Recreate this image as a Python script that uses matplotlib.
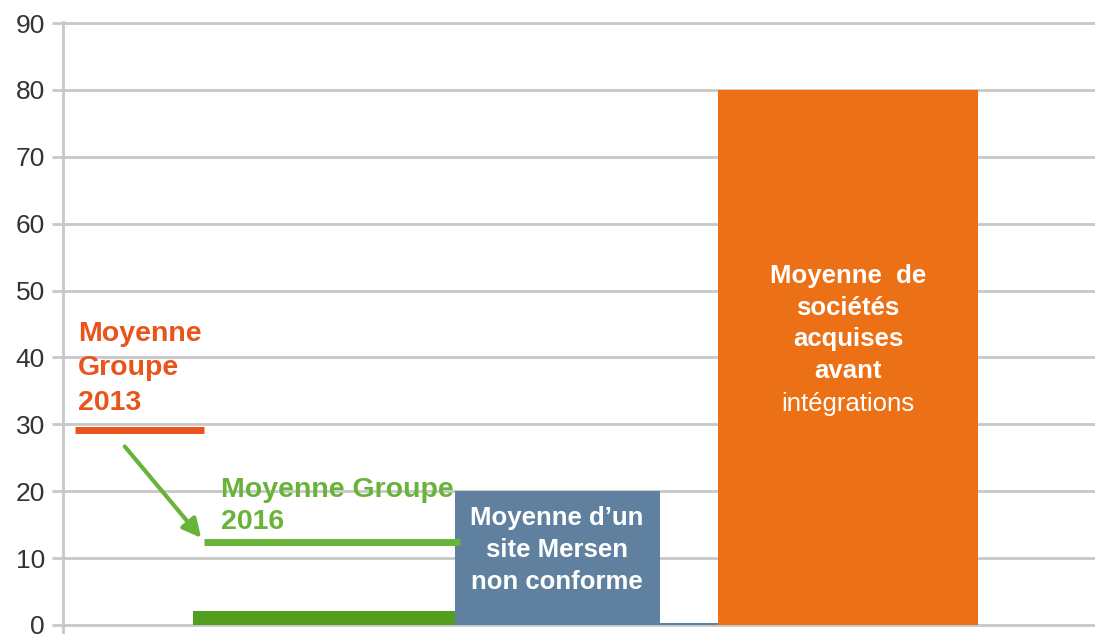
import matplotlib.pyplot as plt

plt.rcParams['font.family'] = ['Liberation Sans', 'DejaVu Sans']

# values
bar_labels = ['Moyenne Groupe 2016', "Moyenne d'un site Mersen non conforme", '', 'Moyenne de sociétés acquises avant intégrations']
bar_values = [2.1, 20, 0.3, 80]
group_2013 = 29.2
group_2016 = 12.4
y_ticks = [0, 10, 20, 30, 40, 50, 60, 70, 80, 90]

# layout (x axis in pixel-like units)
bar_left = [130, 392, 597, 655]
bar_width = [262, 205, 58, 260]
bar_colors = ['#529E1F', '#5F819F', '#5F819F', '#EC7116']

RED = '#E8541A'
GREEN = '#69B33A'
GRID = '#C8C8C8'

fig = plt.figure(figsize=(10.95, 6.34), dpi=100)
ax = fig.add_axes([63 / 1095, 0, 1 - 63 / 1095, 1 - 22 / 634])
ax.set_xlim(0, 1032)
ax.set_ylim(-1.35, 90.15)

ax.set_yticks(y_ticks)
ax.yaxis.grid(True, color=GRID, linewidth=2)
ax.set_axisbelow(True)
ax.set_xticks([])
ax.tick_params(axis='y', length=8, width=2, color=GRID, pad=5,
               labelsize=19, labelcolor='#333333')
for s in ['top', 'right', 'bottom']:
    ax.spines[s].set_visible(False)
ax.spines['left'].set_color(GRID)
ax.spines['left'].set_linewidth(2)

ax.bar(bar_left, bar_values, width=bar_width, align='edge',
       color=bar_colors, linewidth=0, zorder=2)

# group average markers
ax.plot([12, 141], [group_2013, group_2013], color=RED, lw=5, solid_capstyle='butt', zorder=3)
ax.plot([141, 397], [group_2016, group_2016], color=GREEN, lw=5, solid_capstyle='butt', zorder=3)
ax.annotate('', xy=(140, 12.7), xytext=(60, 27.0),
            arrowprops=dict(arrowstyle='-|>', color=GREEN, lw=3, mutation_scale=28),
            zorder=3)

ax.text(15, 38.4, 'Moyenne\nGroupe\n2013', color=RED, fontsize=20.5, fontweight='bold',
        ha='left', va='center', linespacing=1.42)
ax.text(158, 17.8, 'Moyenne Groupe\n2016', color=GREEN, fontsize=20.5, fontweight='bold',
        ha='left', va='center', linespacing=1.3, zorder=1)

ax.text(494, 11.2, 'Moyenne d\u2019un\nsite Mersen\nnon conforme', color='white',
        fontsize=18.5, fontweight='bold', ha='center', va='center', linespacing=1.4, zorder=4)
ax.text(785, 45.1, 'Moyenne  de\nsociétés\nacquises\navant', color='white',
        fontsize=18.5, fontweight='bold', ha='center', va='center', linespacing=1.4, zorder=4)
ax.text(785, 33.0, 'intégrations', color='white', fontsize=18.5,
        ha='center', va='center', zorder=4)

fig.savefig('out.png', dpi=100)
